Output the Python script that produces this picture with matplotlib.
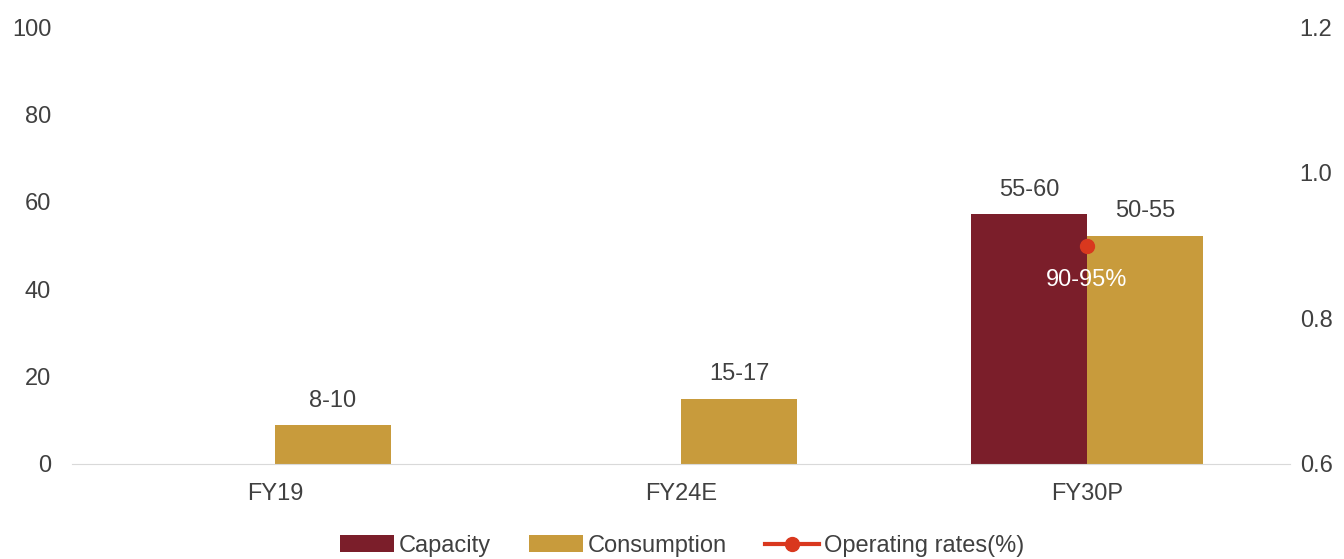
import matplotlib.pyplot as plt
import numpy as np

plt.rcParams['font.family'] = ['Liberation Sans', 'DejaVu Sans']

categories = ['FY19', 'FY24E', 'FY30P']
capacity = [0, 0, 57.2]
consumption = [8.9, 14.9, 52.2]
capacity_labels = ['', '', '55-60']
consumption_labels = ['8-10', '15-17', '50-55']
op_rate = [np.nan, np.nan, 0.9]
op_labels = ['', '', '90-95%']

cap_color = '#7B1E2A'
con_color = '#C89B3C'
op_color = '#D9381E'
txt = '#404040'
fs = 17

fig = plt.figure(figsize=(13.44, 5.59), dpi=100)
ax = fig.add_axes([72 / 1344, 1 - 464 / 559, 1218 / 1344, 437 / 559])
x = np.arange(len(categories))
w = 0.286

b1 = ax.bar(x - w / 2, capacity, w, color=cap_color, label='Capacity')
b2 = ax.bar(x + w / 2, consumption, w, color=con_color, label='Consumption')

for i in range(len(categories)):
    if capacity_labels[i]:
        ax.text(x[i] - w / 2, capacity[i] + 5.6, capacity_labels[i], ha='center', va='center', fontsize=fs, color=txt)
    if consumption_labels[i]:
        ax.text(x[i] + w / 2, consumption[i] + 5.6, consumption_labels[i], ha='center', va='center', fontsize=fs, color=txt)

ax.set_xlim(-0.5, 2.5)
ax.set_ylim(0, 100)
ax.set_yticks(range(0, 101, 20))
ax.set_xticks(x)
ax.set_xticklabels(categories)
for s in ['top', 'right', 'left']:
    ax.spines[s].set_visible(False)
ax.spines['bottom'].set_color('#D9D9D9')
ax.tick_params(axis='both', length=0, labelsize=fs, colors=txt)
ax.tick_params(axis='x', pad=14)
ax.tick_params(axis='y', pad=15)

ax2 = ax.twinx()
line, = ax2.plot(x, op_rate, color=op_color, marker='o', markersize=10, linewidth=3, label='Operating rates(%)')
for i in range(len(categories)):
    if op_labels[i]:
        ax2.text(x[i], op_rate[i] - 0.047, op_labels[i], ha='center', va='center', fontsize=fs, color='white')
ax2.set_ylim(0.6, 1.2)
ax2.set_yticks([0.6, 0.8, 1.0, 1.2])
ax2.set_yticklabels(['0.6', '0.8', '1.0', '1.2'])
for s in ['top', 'right', 'left', 'bottom']:
    ax2.spines[s].set_visible(False)
ax2.tick_params(axis='y', length=0, labelsize=fs, colors=txt, pad=7)

fig.legend([b1, b2, line], ['Capacity', 'Consumption', 'Operating rates(%)'],
           loc='center', bbox_to_anchor=(682 / 1344, 1 - 546 / 559), ncol=3, frameon=False,
           fontsize=fs, handlelength=2.3, handletextpad=0.2, columnspacing=1.6,
           labelcolor=txt)

fig.savefig('out.png', dpi=100)
